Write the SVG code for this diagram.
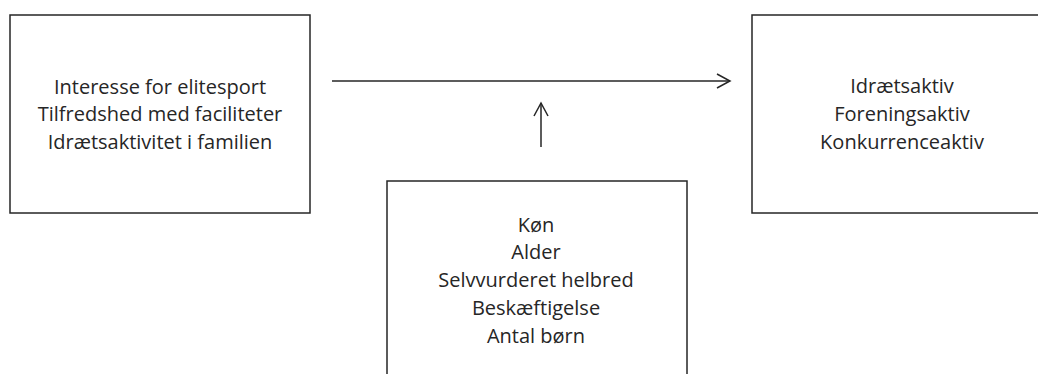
<svg xmlns="http://www.w3.org/2000/svg" width="1038" height="374" viewBox="0 0 1038 374">
<style>
.box{fill:#fff;stroke:#262626;stroke-width:1.5}
.t{font-family:"Open Sans","Noto Sans",sans-serif;font-size:20px;fill:#262626;text-anchor:middle}
.c{stroke:#262626;stroke-width:1.5;fill:none}
</style>
<defs>
<marker id="arr" markerUnits="userSpaceOnUse" markerWidth="20" markerHeight="20" viewBox="-15 -10 20 20" refX="0" refY="0" orient="auto">
<path d="M-13,-7 L0,0 L-13,7" fill="none" stroke="#262626" stroke-width="1.5"/>
</marker>
</defs>
<rect width="1038" height="374" fill="#fff"/>
<g id="node-left">
<rect class="box" x="10" y="15" width="300" height="198"/>
<text class="t" x="160" y="94">Interesse for elitesport</text>
<text class="t" x="160" y="121">Tilfredshed med faciliteter</text>
<text class="t" x="160" y="149">Idrætsaktivitet i familien</text>
</g>
<g id="node-right">
<rect class="box" x="752" y="15" width="300" height="198"/>
<text class="t" x="902" y="93">Idrætsaktiv</text>
<text class="t" x="902" y="121">Foreningsaktiv</text>
<text class="t" x="902" y="149">Konkurrenceaktiv</text>
</g>
<g id="node-bottom">
<rect class="box" x="387" y="181" width="300" height="210"/>
<text class="t" x="536" y="232">Køn</text>
<text class="t" x="536" y="259">Alder</text>
<text class="t" x="536" y="287">Selvvurderet helbred</text>
<text class="t" x="536" y="315">Beskæftigelse</text>
<text class="t" x="536" y="343">Antal børn</text>
</g>
<g id="connectors">
<line class="c" x1="332" y1="81" x2="730" y2="81" marker-end="url(#arr)"/>
<line class="c" x1="541" y1="147" x2="541" y2="103" marker-end="url(#arr)"/>
</g>
</svg>
